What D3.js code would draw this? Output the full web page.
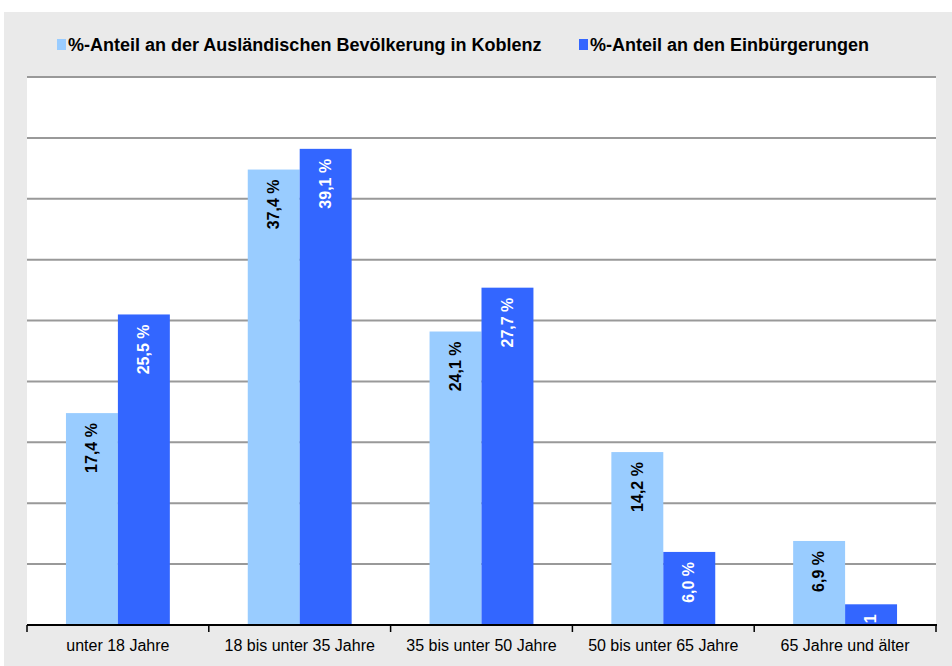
<!DOCTYPE html>
<html>
<head>
<meta charset="utf-8">
<script src="https://cdn.jsdelivr.net/npm/d3@7"></script>
<style>
  html, body { margin: 0; padding: 0; background: #fff; }
  svg { display: block; font-family: "Liberation Sans", Arial, sans-serif; }
</style>
</head>
<body>
<svg id="chart" width="952" height="666"></svg>
<script>
var categories = ['unter 18 Jahre', '18 bis unter 35 Jahre', '35 bis unter 50 Jahre', '50 bis unter 65 Jahre', '65 Jahre und älter'];
var seriesNames = ['%-Anteil an der Ausländischen Bevölkerung in Koblenz', '%-Anteil an den Einbürgerungen'];
var valuesPop = [17.4, 37.4, 24.1, 14.2, 6.9];
var valuesNat = [25.5, 39.1, 27.7, 6.0, 1.7];
var labelsPop = ['17,4 %', '37,4 %', '24,1 %', '14,2 %', '6,9 %'];
var labelsNat = ['25,5 %', '39,1 %', '27,7 %', '6,0 %', '1'];
var yTicks = [0, 5, 10, 15, 20, 25, 30, 35, 40, 45];

var colorPop = '#99ccff'
var colorNat = '#3366ff'
var colorGrid = '#999'

var svg = d3.select('#chart');

// grey panel
svg.append('rect')
  .attr('x', 4).attr('y', 12)
  .attr('width', 948).attr('height', 654)
  .attr('fill', '#eaeaea');

var plotLeft = 27, plotRight = 936, plotTop = 77, plotBottom = 625;

svg.append('rect')
  .attr('x', plotLeft).attr('y', plotTop)
  .attr('width', plotRight - plotLeft).attr('height', plotBottom - plotTop)
  .attr('fill', '#fff');

var x = d3.scaleBand()
  .domain(categories)
  .range([plotLeft, plotRight])
  .paddingInner(0)
  .paddingOuter(0);

var x1 = d3.scaleBand()
  .domain([0, 1])
  .range([0, x.bandwidth()])
  .paddingOuter(0.75)
  .paddingInner(0);

var y = d3.scaleLinear()
  .domain([0, 45])
  .range([plotBottom, plotTop]);

// gridlines
svg.append('g')
  .selectAll('line')
  .data(yTicks.slice(1))
  .join('line')
  .attr('x1', plotLeft).attr('x2', plotRight)
  .attr('y1', d => y(d)).attr('y2', d => y(d))
  .attr('stroke', colorGrid)
  .attr('stroke-width', 2);

var rows = categories.map((c, i) => ({
  cat: c,
  vals: [
    {s: 0, v: valuesPop[i], label: labelsPop[i]},
    {s: 1, v: valuesNat[i], label: labelsNat[i]}
  ]
}));

var groups = svg.append('g')
  .selectAll('g')
  .data(rows)
  .join('g')
  .attr('transform', d => 'translate(' + x(d.cat) + ',0)');

groups.selectAll('rect')
  .data(d => d.vals)
  .join('rect')
  .attr('x', d => x1(d.s))
  .attr('width', x1.bandwidth())
  .attr('y', d => y(d.v))
  .attr('height', d => y(0) - y(d.v))
  .attr('fill', d => d.s === 0 ? colorPop : colorNat);

groups.selectAll('text')
  .data(d => d.vals)
  .join('text')
  .attr('transform', d => 'translate(' + (x1(d.s) + x1.bandwidth() / 2 + 1) + ',' + (y(d.v) + 10) + ') rotate(-90)')
  .attr('text-anchor', 'end')
  .attr('dominant-baseline', 'middle')
  .attr('font-size', 16)
  .attr('font-weight', 'bold')
  .attr('fill', d => d.s === 0 ? '#000' : '#fff')
  .text(d => d.label);

// x axis
var gx = svg.append('g')
  .attr('transform', 'translate(0,' + plotBottom + ')');
gx.append('line')
  .attr('x1', plotLeft).attr('x2', plotRight + 1)
  .attr('stroke', '#000').attr('stroke-width', 2);
gx.selectAll('line.tick')
  .data(categories.concat(['end']))
  .join('line')
  .attr('class', 'tick')
  .attr('x1', (d, i) => i < categories.length ? x(d) : plotRight)
  .attr('x2', (d, i) => i < categories.length ? x(d) : plotRight)
  .attr('y1', 0).attr('y2', 7)
  .attr('stroke', '#000').attr('stroke-width', 1.5);
gx.selectAll('text')
  .data(categories)
  .join('text')
  .attr('x', d => x(d) + x.bandwidth() / 2)
  .attr('y', 26)
  .attr('text-anchor', 'middle')
  .attr('font-size', 16)
  .attr('fill', '#000')
  .text(d => d);

// legend
var legendX = [57, 579];
var legend = svg.append('g')
  .selectAll('g')
  .data(seriesNames)
  .join('g')
  .attr('transform', (d, i) => 'translate(' + legendX[i] + ',39)');
legend.append('rect')
  .attr('width', 9).attr('height', 11)
  .attr('fill', (d, i) => i === 0 ? colorPop : colorNat);
legend.append('text')
  .attr('x', 11).attr('y', 12)
  .attr('font-size', 18)
  .attr('font-weight', 'bold')
  .attr('fill', '#000')
  .text(d => d);
</script>
</body>
</html>
